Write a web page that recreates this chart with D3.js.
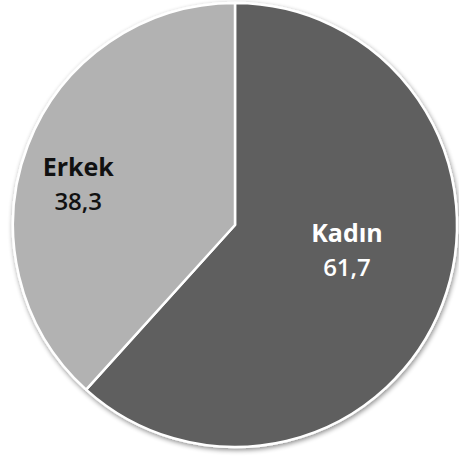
<!DOCTYPE html>
<html>
<head>
<meta charset="utf-8">
<script src="https://cdn.jsdelivr.net/npm/d3@7"></script>
<style>
  body { margin: 0; background: #fff; }
  svg { display: block; }
  .lbl { font-family: "Open Sans", sans-serif; }
  .name { font-weight: 700; font-size: 25px; }
  .val { font-weight: 600; font-size: 24px; }
</style>
</head>
<body>
<svg id="chart"></svg>
<script>
const categories = ['Kadın', 'Erkek'];
const values = [61.7, 38.3];
const valueLabels = ['61,7', '38,3'];
const colors = ['#5f5f5f', '#b2b2b2'];
const labelColors = ['#ffffff', '#111111'];

const width = 459, height = 458;
const cx = 235, cy = 225, radius = 222;

const svg = d3.select('#chart').attr('width', width).attr('height', height);

const defs = svg.append('defs');
const shadow = defs.append('filter').attr('id', 'shadow')
  .attr('x', '-10%').attr('y', '-10%').attr('width', '120%').attr('height', '120%');
shadow.append('feGaussianBlur').attr('in', 'SourceAlpha').attr('stdDeviation', 2.5);
shadow.append('feOffset').attr('dx', 1).attr('dy', 2).attr('result', 'b');
shadow.append('feComponentTransfer').append('feFuncA').attr('type', 'linear').attr('slope', 0.45);
const merge = shadow.append('feMerge');
merge.append('feMergeNode');
merge.append('feMergeNode').attr('in', 'SourceGraphic');

const g = svg.append('g').attr('transform', `translate(${cx},${cy})`);

const pie = d3.pie().sort(null).value(d => d);
const arcs = pie(values);
const arc = d3.arc().innerRadius(0).outerRadius(radius);

g.append('g').attr('filter', 'url(#shadow)')
  .selectAll('path').data(arcs).enter()
  .append('path')
  .attr('d', arc)
  .attr('fill', (d, i) => colors[i])
  .attr('stroke', '#fff')
  .attr('stroke-width', 2.5)
  .attr('stroke-linejoin', 'round');

// label anchor radius and vertical shift per slice
const labelR = [120, 168];
const labelShift = [-26, 11];

const labels = g.selectAll('g.lbl').data(arcs).enter()
  .append('g').attr('class', 'lbl')
  .attr('fill', (d, i) => labelColors[i])
  .attr('text-anchor', 'middle')
  .attr('transform', (d, i) => {
    const c = d3.arc().innerRadius(labelR[i]).outerRadius(labelR[i]).centroid(d);
    return `translate(${c[0]},${c[1] + labelShift[i]})`;
  });
labels.append('text').attr('class', 'name').text((d, i) => categories[i]);
labels.append('text').attr('class', 'val').attr('y', 34).text((d, i) => valueLabels[i]);
</script>
</body>
</html>
